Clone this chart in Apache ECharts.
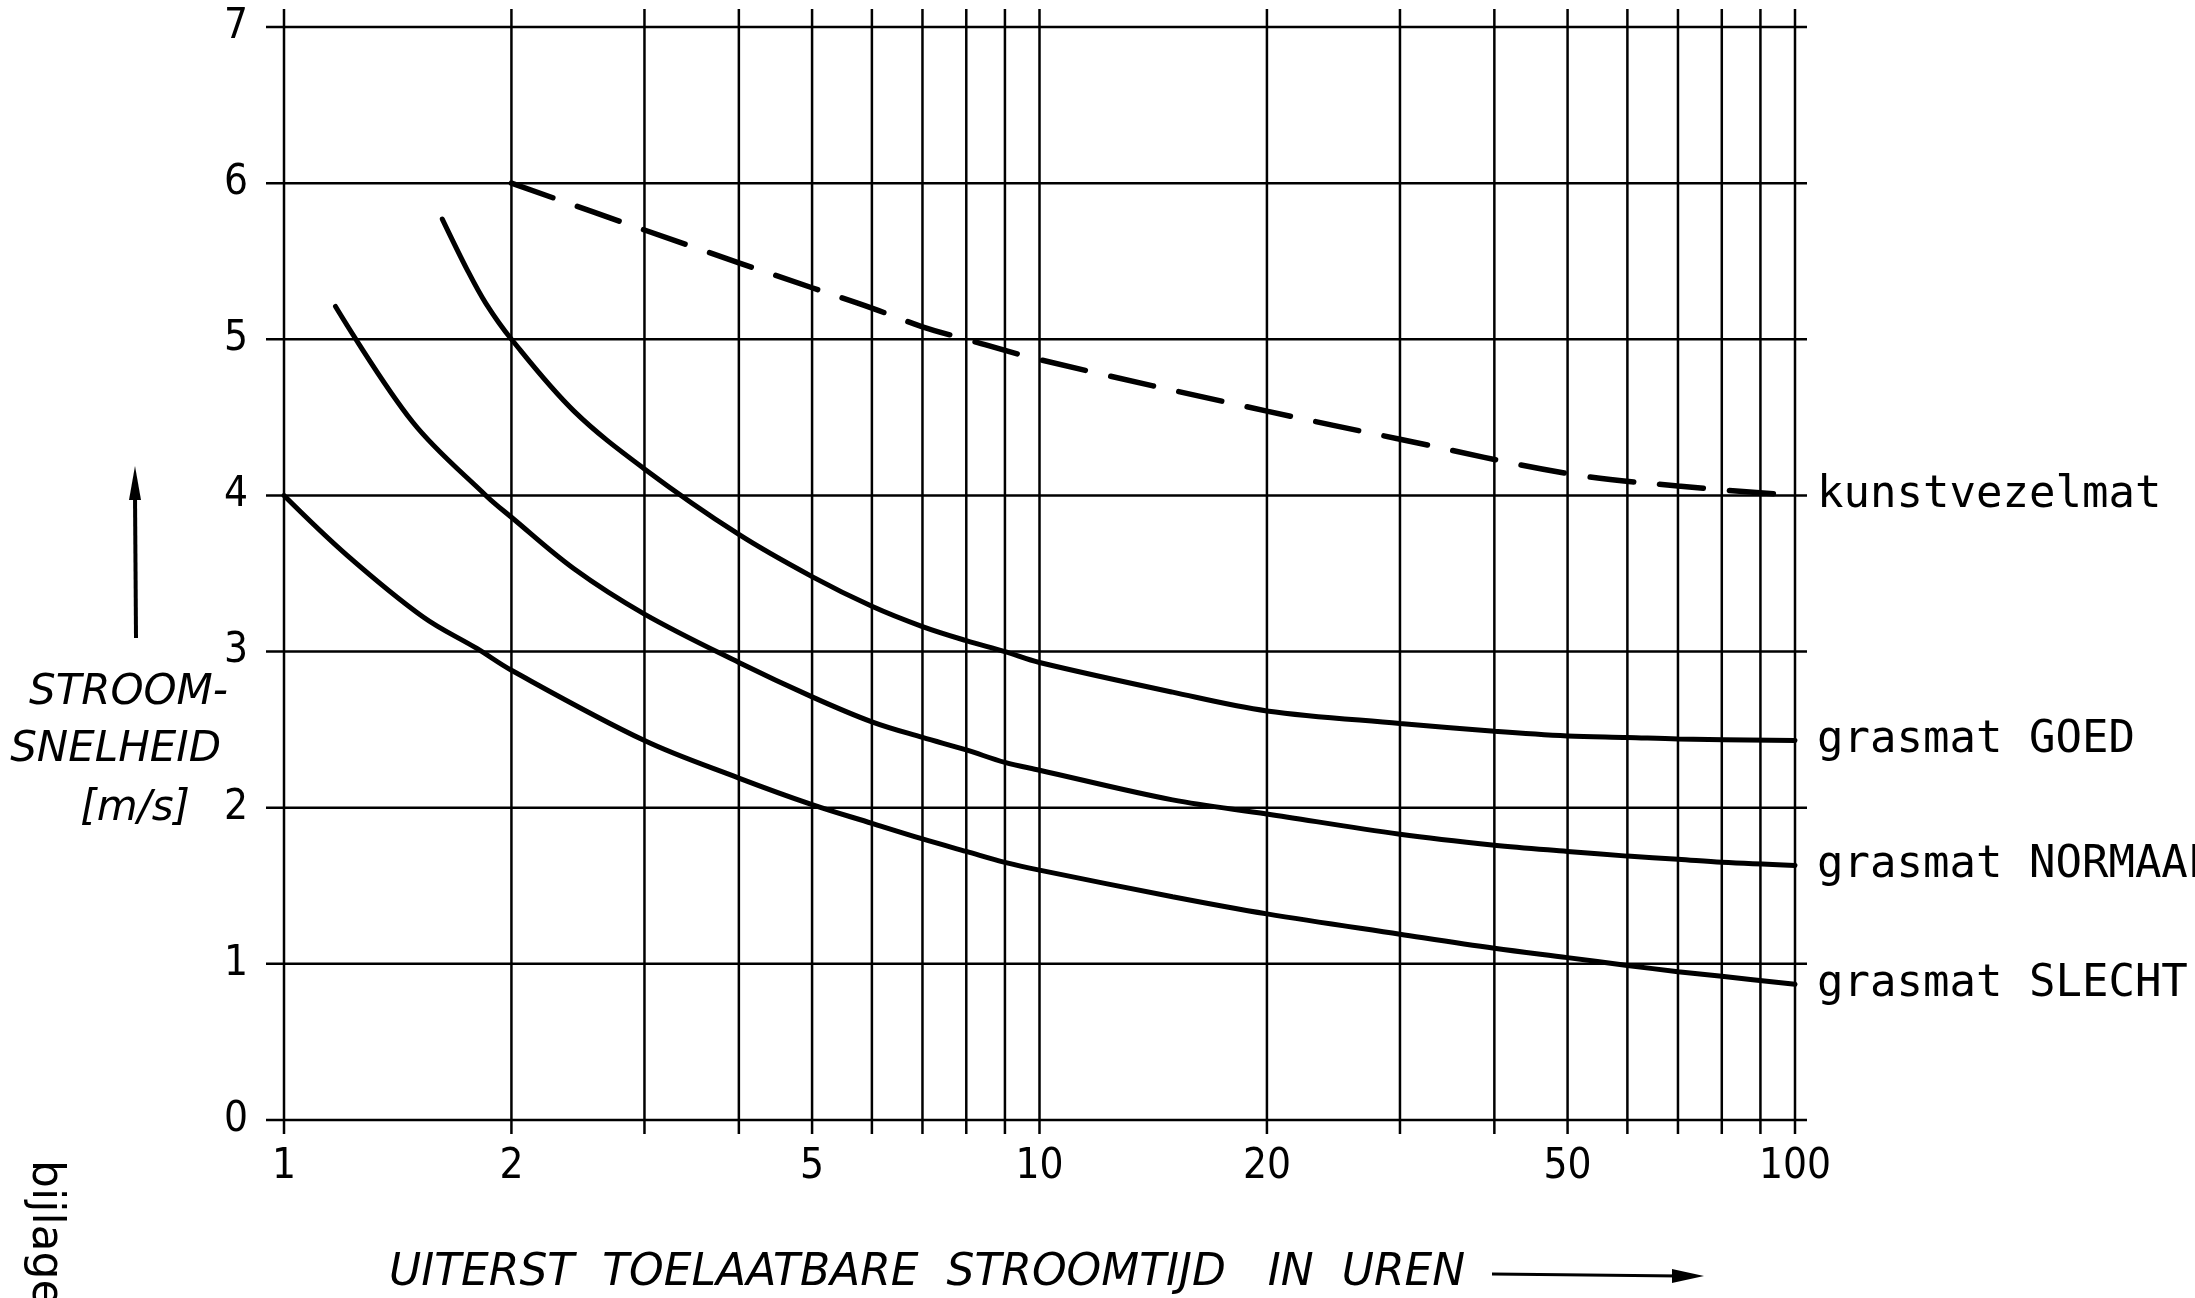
<!DOCTYPE html>
<html lang="nl">
<head>
<meta charset="UTF-8" />
<title>Stroomsnelheid grasmat</title>
<script src="https://cdn.jsdelivr.net/npm/echarts@6/dist/echarts.min.js"></script>
<style>
  html, body { margin: 0; background: #fff; }
  #app { width: 2195px; height: 1298px; }
</style>
</head>
<body>
<div id="app"></div>
<script>
// rasterlijnen en labels
const xGrid = [1, 2, 3, 4, 5, 6, 7, 8, 9, 10, 20, 30, 40, 50, 60, 70, 80, 90, 100];
const xLabels = [1, 2, 5, 10, 20, 50, 100];
const yTicks = [0, 1, 2, 3, 4, 5, 6, 7];

// kunstvezelmat (gestreept)
const urenKunst = [2, 3, 4, 5, 6, 7, 8, 10, 20, 30, 50, 70, 100];
const vKunst = [6.0, 5.7, 5.49, 5.33, 5.2, 5.08, 5.0, 4.87, 4.54, 4.36, 4.14, 4.06, 4.0];

// grasmat GOED
const urenGoed = [1.62, 1.75, 1.85, 2, 2.42, 3, 4, 5, 6, 7, 8, 9, 10, 15, 20, 30, 40, 50, 60, 70, 100];
const vGoed = [5.77, 5.44, 5.23, 5.0, 4.54, 4.17, 3.75, 3.48, 3.29, 3.16, 3.07, 3.0, 2.93, 2.74, 2.62, 2.54, 2.49, 2.46, 2.45, 2.44, 2.43];

// grasmat NORMAAL
const urenNormaal = [1.17, 1.48, 1.85, 2, 2.42, 3, 4, 5, 6, 7, 8, 9, 10, 15, 20, 30, 40, 50, 60, 70, 80, 100];
const vNormaal = [5.21, 4.47, 4.0, 3.86, 3.53, 3.24, 2.93, 2.71, 2.55, 2.45, 2.37, 2.29, 2.24, 2.05, 1.96, 1.83, 1.76, 1.72, 1.69, 1.67, 1.65, 1.63];

// grasmat SLECHT
const urenSlecht = [1, 1.21, 1.53, 1.8, 2, 3, 4, 5, 6, 7, 8, 9, 10, 15, 20, 30, 40, 50, 60, 70, 80, 100];
const vSlecht = [4.0, 3.62, 3.22, 3.02, 2.88, 2.43, 2.19, 2.02, 1.9, 1.8, 1.72, 1.65, 1.6, 1.43, 1.32, 1.19, 1.1, 1.04, 0.99, 0.95, 0.92, 0.87];

const zip = (xs, ys) => xs.map((x, i) => [x, ys[i]]);

const ink = '#000';
const condensed = '"DejaVu Sans Condensed", "DejaVu Sans", sans-serif';
const mono = '"DejaVu Sans Mono", monospace';
const oblique = '"DejaVu Sans", sans-serif';

const chart = echarts.init(document.getElementById('app'), null, { renderer: 'canvas' });

function curve(name, xs, ys, dashed) {
  return {
    name: name,
    type: 'line',
    data: zip(xs, ys),
    smooth: 0.35,
    showSymbol: false,
    z: 5,
    lineStyle: { color: ink, width: dashed ? 5.5 : 5, cap: 'round', type: dashed ? [44, 26] : 'solid' },
    endLabel: {
      show: true,
      formatter: '{a}',
      distance: 22,
      fontFamily: mono,
      fontSize: 44,
      color: ink
    }
  };
}

// verticale rasterlijnen, iets buiten het plotvlak
function renderVertical(params, api) {
  const x = api.value(0);
  const top = api.coord([x, 7]);
  const bot = api.coord([x, 0]);
  const children = [{
    type: 'line',
    shape: { x1: top[0], y1: top[1] - 18, x2: bot[0], y2: bot[1] + 14 },
    style: { stroke: ink, lineWidth: 2.5 }
  }];
  if (xLabels.indexOf(x) >= 0) {
    children.push({
      type: 'text',
      style: {
        text: String(x),
        x: bot[0],
        y: bot[1] + 26,
        align: 'center',
        verticalAlign: 'top',
        fontFamily: condensed,
        fontSize: 42,
        fill: ink
      }
    });
  }
  return { type: 'group', children: children };
}

// horizontale rasterlijnen
function renderHorizontal(params, api) {
  const y = api.value(1);
  const a = api.coord([1, y]);
  const b = api.coord([100, y]);
  return {
    type: 'line',
    shape: { x1: a[0] - 18, y1: a[1], x2: b[0] + 12, y2: b[1] },
    style: { stroke: ink, lineWidth: 2.5 }
  };
}

chart.setOption({
  animation: false,
  backgroundColor: '#fff',
  grid: { left: 284, right: 400, top: 27, bottom: 178 },
  xAxis: {
    type: 'log',
    logBase: 10,
    min: 1,
    max: 100,
    axisLine: { show: false },
    axisTick: { show: false },
    axisLabel: { show: false },
    splitLine: { show: false }
  },
  yAxis: {
    type: 'value',
    min: 0,
    max: 7,
    interval: 1,
    axisLine: { show: false },
    axisTick: { show: false },
    splitLine: { show: false },
    axisLabel: { margin: 36, fontFamily: condensed, fontSize: 42, color: ink }
  },
  series: [
    {
      type: 'custom',
      silent: true,
      z: 1,
      data: xGrid.map(v => [v, 0]),
      renderItem: renderVertical
    },
    {
      type: 'custom',
      silent: true,
      z: 1,
      data: yTicks.map(v => [1, v]),
      renderItem: renderHorizontal
    },
    curve('kunstvezelmat', urenKunst, vKunst, true),
    curve('grasmat GOED', urenGoed, vGoed, false),
    curve('grasmat NORMAAL', urenNormaal, vNormaal, false),
    curve('grasmat SLECHT', urenSlecht, vSlecht, false)
  ],
  graphic: [
    // as-titel verticaal
    { type: 'text', style: { text: 'STROOM-', x: 228, y: 693, align: 'right', verticalAlign: 'middle', fontFamily: oblique, fontStyle: 'italic', fontSize: 42, fill: ink } },
    { type: 'text', style: { text: 'SNELHEID', x: 221, y: 750, align: 'right', verticalAlign: 'middle', fontFamily: oblique, fontStyle: 'italic', fontSize: 42, fill: ink } },
    { type: 'text', style: { text: '[m/s]', x: 190, y: 809, align: 'right', verticalAlign: 'middle', fontFamily: oblique, fontStyle: 'italic', fontSize: 42, fill: ink } },
    { type: 'line', shape: { x1: 136, y1: 638, x2: 135, y2: 495 }, style: { stroke: ink, lineWidth: 4 } },
    { type: 'polygon', shape: { points: [[135, 466], [129, 500], [141, 500]] }, style: { fill: ink } },
    // as-titel horizontaal
    { type: 'text', style: { text: 'UITERST  TOELAATBARE  STROOMTIJD   IN  UREN', x: 389, y: 1274, align: 'left', verticalAlign: 'middle', fontFamily: oblique, fontStyle: 'italic', fontSize: 44, fill: ink } },
    { type: 'line', shape: { x1: 1492, y1: 1274, x2: 1680, y2: 1276 }, style: { stroke: ink, lineWidth: 3 } },
    { type: 'polygon', shape: { points: [[1704, 1276], [1672, 1269], [1672, 1283]] }, style: { fill: ink } },
    // bijlage, gedraaid
    { type: 'text', x: 44, y: 1160, rotation: -Math.PI / 2, style: { text: 'bijlage', x: 0, y: 0, align: 'left', verticalAlign: 'middle', fontFamily: oblique, fontSize: 44, fill: ink } }
  ]
});
</script>
</body>
</html>
